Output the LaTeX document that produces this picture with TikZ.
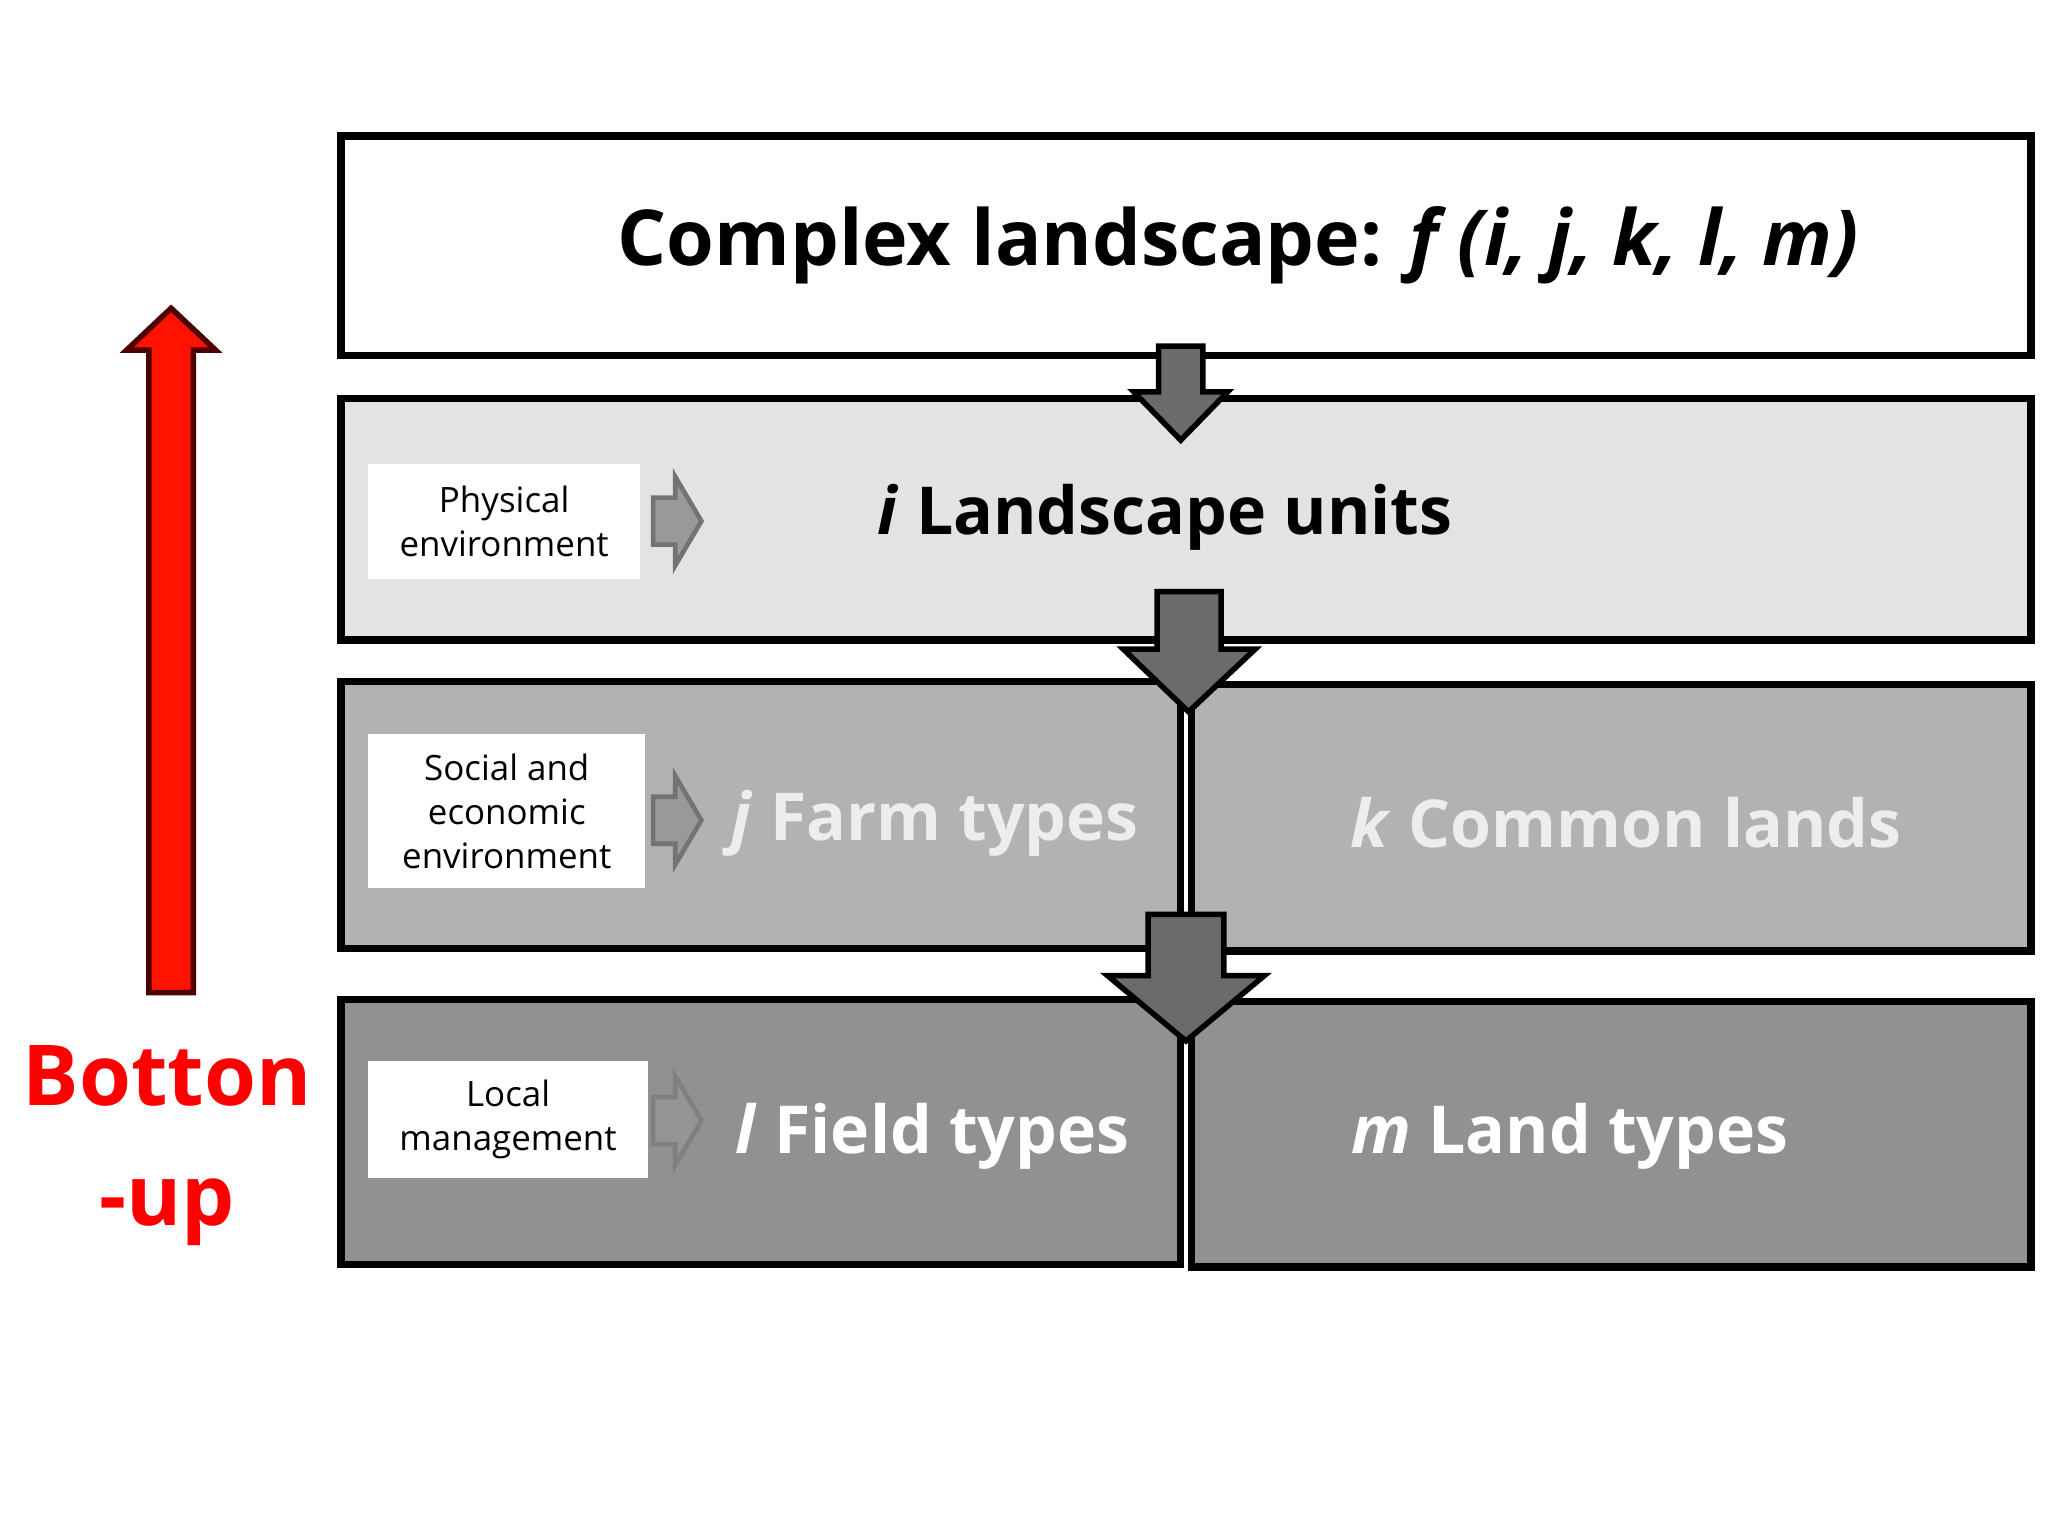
\documentclass[tikz,border=0pt]{standalone}
\usepackage{fontspec}
\setmainfont{Open Sans}
\begin{document}
\begin{tikzpicture}[x=0.01cm,y=-0.01cm,
  lvl/.style={draw=black,line width=1.6pt},
  big/.style={font=\fontsize{16.8}{20}\selectfont\bfseries},
  mid/.style={font=\fontsize{14.4}{17}\selectfont\bfseries},
  small/.style={fill=white,align=center,inner sep=0pt,font=\fontsize{7.6}{9.6}\selectfont},
  darr/.style={fill=black!58,draw=black,line width=1.2pt,line join=miter},
  sarr/.style={fill=black!40,draw=black!55,line width=1pt}]
\useasboundingbox (0,0) rectangle (1568,1176);
\fill[white] (0,0) rectangle (1568,1176);
% levels
\draw[lvl,fill=white] (261,104) rectangle (1555,272);
\draw[lvl,fill=black!11] (261,305) rectangle (1555,490);
\draw[lvl,fill=black!30] (261,522) rectangle (904,726);
\draw[lvl,fill=black!30] (912,524) rectangle (1555,728);
\draw[lvl,fill=black!43] (261,765) rectangle (904,968);
\draw[lvl,fill=black!43] (912,767) rectangle (1555,970);
% texts
\node[big] (t0) at (948,188) {Complex landscape: \textit{f (i, j, k, l, m)}};
\node[mid] (t1) at (892,396) {\textit{i} Landscape units};
\node[mid,text=black!7] (t2) at (716,630) {\textit{j} Farm types};
\node[mid,text=black!7] (t3) at (1245,630) {\textit{k} Common lands};
\node[mid,text=white] (t4) at (714,870) {\textit{l} Field types};
\node[mid,text=white] (t5) at (1202,870) {\textit{m} Land types};
% small boxes
\node[small,minimum width=2.08cm,minimum height=0.88cm] (p) at (386,399) {Physical\\environment};
\node[small,minimum width=2.12cm,minimum height=1.18cm] (s) at (388,621) {Social and\\economic\\environment};
\node[small,minimum width=2.14cm,minimum height=0.89cm] (lm) at (389,857) {Local\\management};
% small arrows
\foreach \c/\o in {399/1,628/1,858/0.6}{
 \draw[sarr,opacity=\o] (500,\c-18) -- (517,\c-18) -- (517,\c-34) -- (537,\c) -- (517,\c+34) -- (517,\c+18) -- (500,\c+18) -- cycle;}
% down arrows
\draw[darr] (887,265) -- (921,265) -- (921,300) -- (940,300) -- (904,337) -- (868,300) -- (887,300) -- cycle;
\draw[darr] (886,453) -- (935,453) -- (935,497) -- (961,497) -- (910,545) -- (860,497) -- (886,497) -- cycle;
\draw[darr] (879,700) -- (937,700) -- (937,747) -- (968,747) -- (908,797) -- (848,747) -- (879,747) -- cycle;
% red arrow
\draw[fill=red!85!orange,draw=black!70!red,line width=1.2pt] (114,760) -- (114,268) -- (97,268) -- (131,236) -- (165,268) -- (148,268) -- (148,760) -- cycle;
\node[text=red,font=\fontsize{18.3}{26}\selectfont\bfseries,align=center] (bu) at (128,877) {Botton\\-up};
\end{tikzpicture}
\end{document}
